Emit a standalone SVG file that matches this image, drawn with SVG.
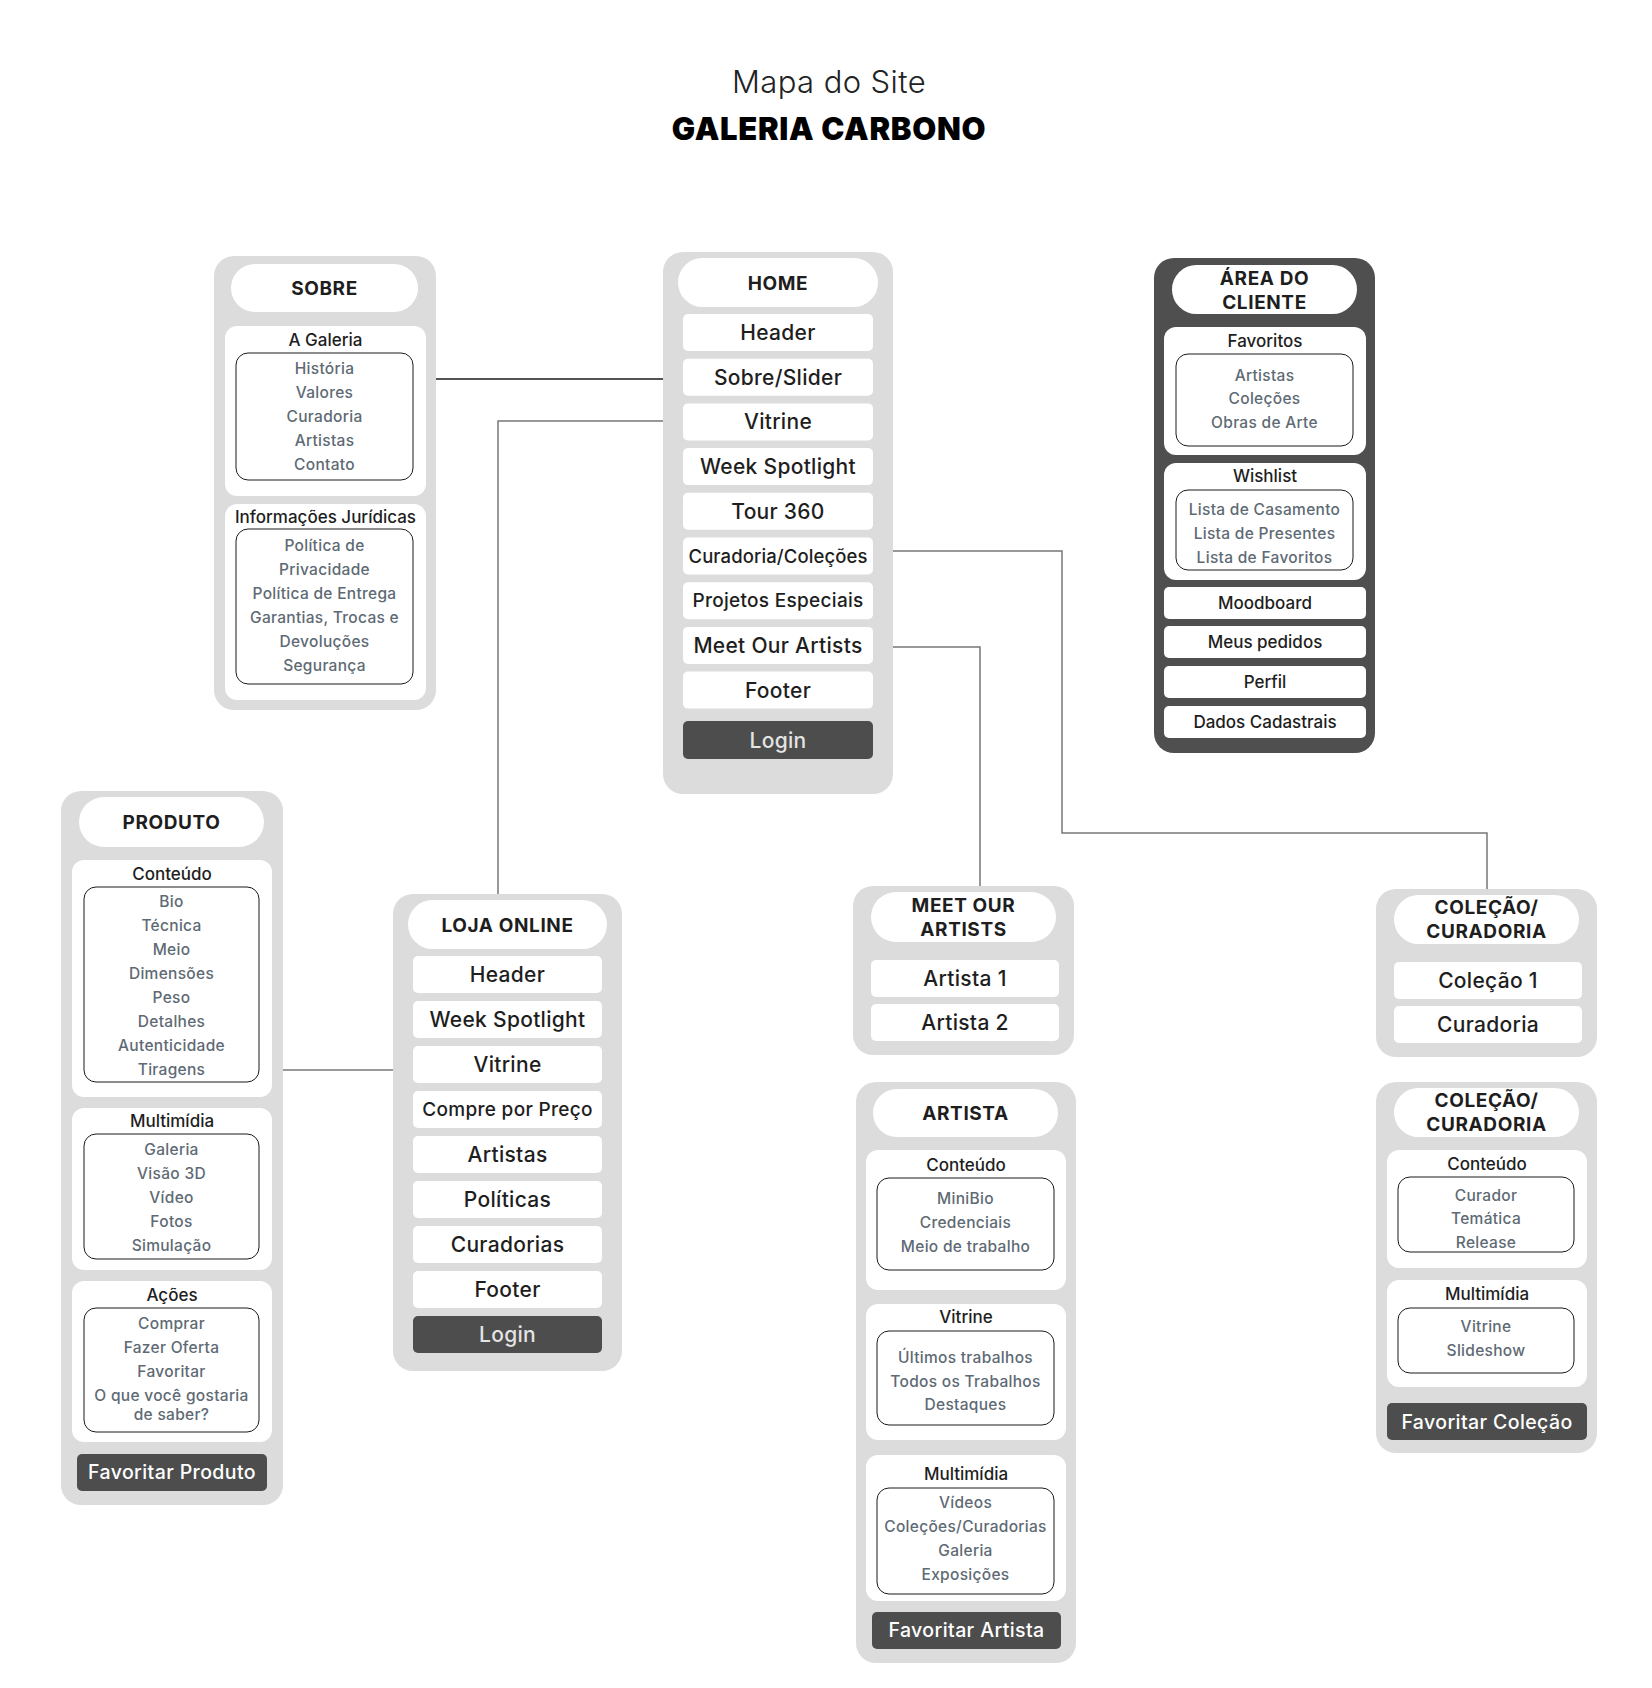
<svg xmlns="http://www.w3.org/2000/svg" width="1652" height="1688" viewBox="0 0 1652 1688">
<style>
text{font-family:Inter,"Noto Sans","Liberation Sans",sans-serif;text-anchor:middle;dominant-baseline:central}
.outer{fill:#dcdcdc}
.darkouter{fill:#4f4f4f}
.wh{fill:#ffffff}
.box{fill:none;stroke:#1a1a1a;stroke-width:1}
.btn{fill:#4d4d4d}
.head{font-size:19px;font-weight:700;fill:#1e1e1e;letter-spacing:0.6px}
.it{font-size:21px;font-weight:500;fill:#1e1e1e;letter-spacing:0.3px}
.its{font-size:19px;font-weight:500;fill:#1e1e1e;letter-spacing:0.3px}
.itx{font-size:18.5px;font-weight:500;fill:#1e1e1e;letter-spacing:0.1px}
.pt{font-size:17px;font-weight:500;fill:#1e1e1e}
.sub{font-size:15.5px;font-weight:500;fill:#5e6a74;letter-spacing:0.3px}
.sm{font-size:17px;font-weight:500;fill:#1e1e1e}
.bt{font-size:19.5px;font-weight:500;fill:#ffffff;letter-spacing:0.4px}
.login{font-size:21px;font-weight:500;fill:#e4e4e4;letter-spacing:0.3px}
.conn{fill:none;stroke:#777777;stroke-width:1.5}
.conn-dark{fill:none;stroke:#1a1a1a;stroke-width:1.5}
</style>
<rect width="1652" height="1688" fill="#ffffff"/>
<g id="title">
<text x="829" y="81" style="font-size:31px;font-weight:300;fill:#222;letter-spacing:0.4px">Mapa do Site</text>
<text x="829" y="128" style="font-size:31px;font-weight:900;fill:#000;letter-spacing:0.7px">GALERIA CARBONO</text>
</g>
<g id="connectors">
<path class="conn-dark" d="M436 379 H663"/>
<path class="conn" d="M663 421 H498 V894"/>
<path class="conn" d="M893 551 H1062 V833 H1487 V889"/>
<path class="conn" d="M893 647 H980 V886"/>
<path class="conn" d="M283 1070 H393"/>
</g>
<g id="sobre">
<rect class="outer" x="214" y="256" width="222" height="454" rx="20"/>
<rect class="wh" x="231" y="264" width="187" height="48" rx="24"/>
<text class="head" x="324.5" y="288">SOBRE</text>
<rect class="wh" x="225" y="326" width="201" height="170" rx="12"/>
<text class="pt" x="325.5" y="340">A Galeria</text>
<rect class="box" x="236" y="353" width="177" height="127" rx="12"/>
<text class="sub" x="324.5" y="368">História</text>
<text class="sub" x="324.5" y="392">Valores</text>
<text class="sub" x="324.5" y="416">Curadoria</text>
<text class="sub" x="324.5" y="440">Artistas</text>
<text class="sub" x="324.5" y="464">Contato</text>
<rect class="wh" x="225" y="504" width="201" height="196" rx="12"/>
<text class="pt" x="325.5" y="517">Informações Jurídicas</text>
<rect class="box" x="236" y="529" width="177" height="155" rx="12"/>
<text class="sub" x="324.5" y="545">Política de</text>
<text class="sub" x="324.5" y="569">Privacidade</text>
<text class="sub" x="324.5" y="593">Política de Entrega</text>
<text class="sub" x="324.5" y="617">Garantias, Trocas e</text>
<text class="sub" x="324.5" y="641">Devoluções</text>
<text class="sub" x="324.5" y="665">Segurança</text>
</g>
<g id="home">
<rect class="outer" x="663" y="252" width="230" height="542" rx="20"/>
<rect class="wh" x="678" y="258" width="200" height="49" rx="24.5"/>
<text class="head" x="778" y="283">HOME</text>
<rect class="wh" x="683" y="314" width="190" height="37" rx="5"/>
<text class="it" x="778" y="332.5">Header</text>
<rect class="wh" x="683" y="358.7" width="190" height="37" rx="5"/>
<text class="it" x="778" y="377.2">Sobre/Slider</text>
<rect class="wh" x="683" y="403.4" width="190" height="37" rx="5"/>
<text class="it" x="778" y="421.9">Vitrine</text>
<rect class="wh" x="683" y="448.1" width="190" height="37" rx="5"/>
<text class="it" x="778" y="466.6">Week Spotlight</text>
<rect class="wh" x="683" y="492.8" width="190" height="37" rx="5"/>
<text class="it" x="778" y="511.3">Tour 360</text>
<rect class="wh" x="683" y="537.5" width="190" height="37" rx="5"/>
<text class="itx" x="778" y="556">Curadoria/Coleções</text>
<rect class="wh" x="683" y="582.2" width="190" height="37" rx="5"/>
<text class="its" x="778" y="600.7">Projetos Especiais</text>
<rect class="wh" x="683" y="626.9" width="190" height="37" rx="5"/>
<text class="it" x="778" y="645.4">Meet Our Artists</text>
<rect class="wh" x="683" y="671.6" width="190" height="37" rx="5"/>
<text class="it" x="778" y="690.1">Footer</text>
<rect class="btn" x="683" y="721" width="190" height="38" rx="5"/>
<text class="login" x="778" y="740">Login</text>
</g>
<g id="area-cliente">
<rect class="darkouter" x="1154" y="258" width="221" height="495" rx="20"/>
<rect class="wh" x="1172" y="265" width="185" height="49" rx="24.5"/>
<text class="head" x="1264.5" y="278">ÁREA DO</text>
<text class="head" x="1264.5" y="302">CLIENTE</text>
<rect class="wh" x="1164" y="327" width="202" height="128" rx="12"/>
<text class="pt" x="1265" y="341">Favoritos</text>
<rect class="box" x="1176" y="354" width="177" height="92" rx="12"/>
<text class="sub" x="1264.5" y="375">Artistas</text>
<text class="sub" x="1264.5" y="398">Coleções</text>
<text class="sub" x="1264.5" y="422">Obras de Arte</text>
<rect class="wh" x="1164" y="463" width="202" height="117" rx="12"/>
<text class="pt" x="1265" y="476">Wishlist</text>
<rect class="box" x="1176" y="490" width="177" height="80" rx="12"/>
<text class="sub" x="1264.5" y="509">Lista de Casamento</text>
<text class="sub" x="1264.5" y="533">Lista de Presentes</text>
<text class="sub" x="1264.5" y="557">Lista de Favoritos</text>
<rect class="wh" x="1164" y="587" width="202" height="32" rx="5"/>
<text class="sm" x="1265" y="603">Moodboard</text>
<rect class="wh" x="1164" y="626" width="202" height="32" rx="5"/>
<text class="sm" x="1265" y="642">Meus pedidos</text>
<rect class="wh" x="1164" y="666" width="202" height="32" rx="5"/>
<text class="sm" x="1265" y="682">Perfil</text>
<rect class="wh" x="1164" y="706" width="202" height="32" rx="5"/>
<text class="sm" x="1265" y="722">Dados Cadastrais</text>
</g>
<g id="produto">
<rect class="outer" x="61" y="791" width="222" height="714" rx="20"/>
<rect class="wh" x="79" y="797" width="185" height="50" rx="25"/>
<text class="head" x="171.5" y="822">PRODUTO</text>
<rect class="wh" x="72" y="860" width="200" height="237" rx="12"/>
<text class="pt" x="172" y="874">Conteúdo</text>
<rect class="box" x="84" y="887" width="175" height="195" rx="12"/>
<text class="sub" x="171.5" y="901">Bio</text>
<text class="sub" x="171.5" y="925">Técnica</text>
<text class="sub" x="171.5" y="949">Meio</text>
<text class="sub" x="171.5" y="973">Dimensões</text>
<text class="sub" x="171.5" y="997">Peso</text>
<text class="sub" x="171.5" y="1021">Detalhes</text>
<text class="sub" x="171.5" y="1045">Autenticidade</text>
<text class="sub" x="171.5" y="1069">Tiragens</text>
<rect class="wh" x="72" y="1108" width="200" height="162" rx="12"/>
<text class="pt" x="172" y="1121">Multimídia</text>
<rect class="box" x="84" y="1134" width="175" height="125" rx="12"/>
<text class="sub" x="171.5" y="1149">Galeria</text>
<text class="sub" x="171.5" y="1173">Visão 3D</text>
<text class="sub" x="171.5" y="1197">Vídeo</text>
<text class="sub" x="171.5" y="1221">Fotos</text>
<text class="sub" x="171.5" y="1245">Simulação</text>
<rect class="wh" x="72" y="1281" width="200" height="161" rx="12"/>
<text class="pt" x="172" y="1295">Ações</text>
<rect class="box" x="84" y="1308" width="175" height="124" rx="12"/>
<text class="sub" x="171.5" y="1323">Comprar</text>
<text class="sub" x="171.5" y="1347">Fazer Oferta</text>
<text class="sub" x="171.5" y="1371">Favoritar</text>
<text class="sub" x="171.5" y="1395">O que você gostaria</text>
<text class="sub" x="171.5" y="1414">de saber?</text>
<rect class="btn" x="77" y="1454" width="190" height="37" rx="5"/>
<text class="bt" x="172" y="1472">Favoritar Produto</text>
</g>
<g id="loja-online">
<rect class="outer" x="393" y="894" width="229" height="477" rx="20"/>
<rect class="wh" x="408" y="900" width="199" height="49" rx="24.5"/>
<text class="head" x="507.5" y="925">LOJA ONLINE</text>
<rect class="wh" x="413" y="956" width="189" height="37" rx="5"/>
<text class="it" x="507.5" y="974.5">Header</text>
<rect class="wh" x="413" y="1001" width="189" height="37" rx="5"/>
<text class="it" x="507.5" y="1019.5">Week Spotlight</text>
<rect class="wh" x="413" y="1046" width="189" height="37" rx="5"/>
<text class="it" x="507.5" y="1064.5">Vitrine</text>
<rect class="wh" x="413" y="1091" width="189" height="37" rx="5"/>
<text class="its" x="507.5" y="1109.5">Compre por Preço</text>
<rect class="wh" x="413" y="1136" width="189" height="37" rx="5"/>
<text class="it" x="507.5" y="1154.5">Artistas</text>
<rect class="wh" x="413" y="1181" width="189" height="37" rx="5"/>
<text class="it" x="507.5" y="1199.5">Políticas</text>
<rect class="wh" x="413" y="1226" width="189" height="37" rx="5"/>
<text class="it" x="507.5" y="1244.5">Curadorias</text>
<rect class="wh" x="413" y="1271" width="189" height="37" rx="5"/>
<text class="it" x="507.5" y="1289.5">Footer</text>
<rect class="btn" x="413" y="1316" width="189" height="37" rx="5"/>
<text class="login" x="507.5" y="1334.5">Login</text>
</g>
<g id="meet-our-artists">
<rect class="outer" x="853" y="886" width="221" height="169" rx="20"/>
<rect class="wh" x="871" y="892" width="185" height="50" rx="25"/>
<text class="head" x="963.5" y="905">MEET OUR</text>
<text class="head" x="963.5" y="929">ARTISTS</text>
<rect class="wh" x="871" y="960" width="188" height="37" rx="5"/>
<text class="it" x="965" y="978.5">Artista 1</text>
<rect class="wh" x="871" y="1004" width="188" height="37" rx="5"/>
<text class="it" x="965" y="1022.5">Artista 2</text>
</g>
<g id="artista">
<rect class="outer" x="856" y="1082" width="220" height="581" rx="20"/>
<rect class="wh" x="873" y="1089" width="185" height="48" rx="24"/>
<text class="head" x="965.5" y="1113">ARTISTA</text>
<rect class="wh" x="866" y="1150" width="200" height="140" rx="12"/>
<text class="pt" x="966" y="1165">Conteúdo</text>
<rect class="box" x="877" y="1178" width="177" height="92" rx="12"/>
<text class="sub" x="965.5" y="1198">MiniBio</text>
<text class="sub" x="965.5" y="1222">Credenciais</text>
<text class="sub" x="965.5" y="1246">Meio de trabalho</text>
<rect class="wh" x="866" y="1304" width="200" height="136" rx="12"/>
<text class="pt" x="966" y="1317">Vitrine</text>
<rect class="box" x="877" y="1331" width="177" height="94" rx="12"/>
<text class="sub" x="965.5" y="1357">Últimos trabalhos</text>
<text class="sub" x="965.5" y="1381">Todos os Trabalhos</text>
<text class="sub" x="965.5" y="1404">Destaques</text>
<rect class="wh" x="866" y="1455" width="200" height="146" rx="12"/>
<text class="pt" x="966" y="1474">Multimídia</text>
<rect class="box" x="877" y="1488" width="177" height="106" rx="12"/>
<text class="sub" x="965.5" y="1502">Vídeos</text>
<text class="sub" x="965.5" y="1526">Coleções/Curadorias</text>
<text class="sub" x="965.5" y="1550">Galeria</text>
<text class="sub" x="965.5" y="1574">Exposições</text>
<rect class="btn" x="872" y="1612" width="189" height="37" rx="5"/>
<text class="bt" x="966.5" y="1630">Favoritar Artista</text>
</g>
<g id="colecao-curadoria-1">
<rect class="outer" x="1376" y="889" width="221" height="168" rx="20"/>
<rect class="wh" x="1394" y="895" width="185" height="49" rx="24.5"/>
<text class="head" x="1486.5" y="907">COLEÇÃO/</text>
<text class="head" x="1486.5" y="931">CURADORIA</text>
<rect class="wh" x="1394" y="962" width="188" height="37" rx="5"/>
<text class="it" x="1488" y="980.5">Coleção 1</text>
<rect class="wh" x="1394" y="1006" width="188" height="37" rx="5"/>
<text class="it" x="1488" y="1024.5">Curadoria</text>
</g>
<g id="colecao-curadoria-2">
<rect class="outer" x="1376" y="1082" width="221" height="371" rx="20"/>
<rect class="wh" x="1394" y="1088" width="185" height="49" rx="24.5"/>
<text class="head" x="1486.5" y="1100">COLEÇÃO/</text>
<text class="head" x="1486.5" y="1124">CURADORIA</text>
<rect class="wh" x="1387" y="1150" width="200" height="118" rx="12"/>
<text class="pt" x="1487" y="1164">Conteúdo</text>
<rect class="box" x="1398" y="1177" width="176" height="75" rx="12"/>
<text class="sub" x="1486" y="1195">Curador</text>
<text class="sub" x="1486" y="1218">Temática</text>
<text class="sub" x="1486" y="1242">Release</text>
<rect class="wh" x="1387" y="1280" width="200" height="107" rx="12"/>
<text class="pt" x="1487" y="1294">Multimídia</text>
<rect class="box" x="1398" y="1308" width="176" height="65" rx="12"/>
<text class="sub" x="1486" y="1326">Vitrine</text>
<text class="sub" x="1486" y="1350">Slideshow</text>
<rect class="btn" x="1387" y="1403" width="200" height="37" rx="5"/>
<text class="bt" x="1487" y="1421.5">Favoritar Coleção</text>
</g>
</svg>
